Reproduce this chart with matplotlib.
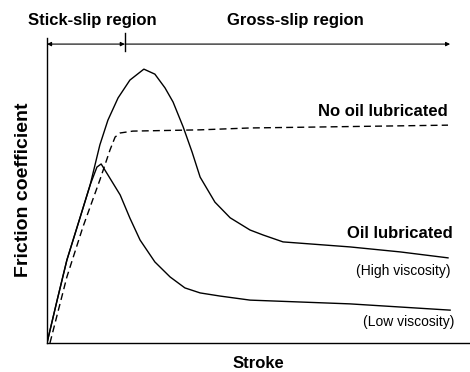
import matplotlib
matplotlib.use("Agg")
import matplotlib.pyplot as plt

plt.rcParams["font.family"] = ["Liberation Sans", "DejaVu Sans"]

# friction curves, stroke in arbitrary units (0-10), friction normalised (0-1)
high_x = [0, 0.24, 0.47, 0.78, 1.02, 1.25, 1.44, 1.68, 1.96, 2.29, 2.55, 2.79,
          2.98, 3.22, 3.43, 3.62, 3.97, 4.33, 4.80, 5.11, 5.58, 7.16, 8.35, 9.48]
high_y = [0, 0.137, 0.265, 0.400, 0.505, 0.633, 0.712, 0.783, 0.840, 0.875, 0.859, 0.815,
          0.770, 0.690, 0.610, 0.530, 0.450, 0.400, 0.361, 0.345, 0.323, 0.307, 0.291, 0.272]

low_x = [0, 0.24, 0.47, 0.78, 1.02, 1.18, 1.28, 1.44, 1.73, 1.96, 2.20, 2.55,
         2.91, 3.26, 3.62, 4.09, 4.80, 7.16, 9.53]
low_y = [0, 0.137, 0.265, 0.400, 0.505, 0.562, 0.572, 0.537, 0.473, 0.399, 0.329, 0.259,
         0.211, 0.176, 0.160, 0.150, 0.137, 0.125, 0.105]

dry_x = [0.07, 0.47, 0.85, 1.25, 1.49, 1.61, 1.73, 2.03, 3.62, 4.80, 6.38, 9.48]
dry_y = [0, 0.211, 0.371, 0.521, 0.617, 0.658, 0.671, 0.677, 0.681, 0.687, 0.690, 0.696]

stick_end = 1.84
gross_end = 9.53

W, H = 470, 372
fig = plt.figure(figsize=(W / 100, H / 100), dpi=100)
ax = fig.add_axes([47 / W, (H - 343) / H, (W - 47) / W, 313 / H])
ax.set_xlim(0, 10)
ax.set_ylim(0, 1)

ax.plot(high_x, high_y, color="black", lw=1.0)
ax.plot(low_x, low_y, color="black", lw=1.0)
ax.plot(dry_x, dry_y, color="black", lw=1.0, dashes=(5, 3))

# region markers along the top
arr_y = 0.955
ax.annotate("", xy=(0, arr_y), xytext=(stick_end, arr_y),
            arrowprops=dict(arrowstyle="<|-|>", color="black", lw=0.8,
                            mutation_scale=6, shrinkA=0, shrinkB=0))
ax.annotate("", xy=(stick_end, arr_y), xytext=(gross_end, arr_y),
            arrowprops=dict(arrowstyle="<|-", color="black", lw=0.8,
                            mutation_scale=6, shrinkA=0, shrinkB=0))
ax.plot([stick_end, stick_end], [0.932, 0.99], color="black", lw=1.0, clip_on=False)

for s in ["top", "right"]:
    ax.spines[s].set_visible(False)
ax.spines["left"].set_bounds(0, 0.975)
ax.spines["left"].set_linewidth(1.0)
ax.spines["bottom"].set_linewidth(1.0)
ax.set_xticks([])
ax.set_yticks([])

bold = dict(fontsize=12, fontweight="bold", color="black")
fig.text(28 / W, 1 - 20 / H, "Stick-slip region", ha="left", va="center", **bold)
fig.text(227 / W, 1 - 20 / H, "Gross-slip region", ha="left", va="center", **bold)
fig.text(448 / W, 1 - 112 / H, "No oil lubricated", ha="right", va="center", **bold)
fig.text(453 / W, 1 - 234 / H, "Oil lubricated", ha="right", va="center", **bold)
fig.text(450 / W, 1 - 271 / H, "(High viscosity)", ha="right", va="center", fontsize=10)
fig.text(454 / W, 1 - 322 / H, "(Low viscosity)", ha="right", va="center", fontsize=10)
fig.text(24 / W, 1 - 190 / H, "Friction coefficient", rotation=90,
         ha="center", va="center", fontsize=14, fontweight="bold")
fig.text(258 / W, 1 - 363 / H, "Stroke", ha="center", va="center", **bold)

fig.savefig("out.png", dpi=100)
